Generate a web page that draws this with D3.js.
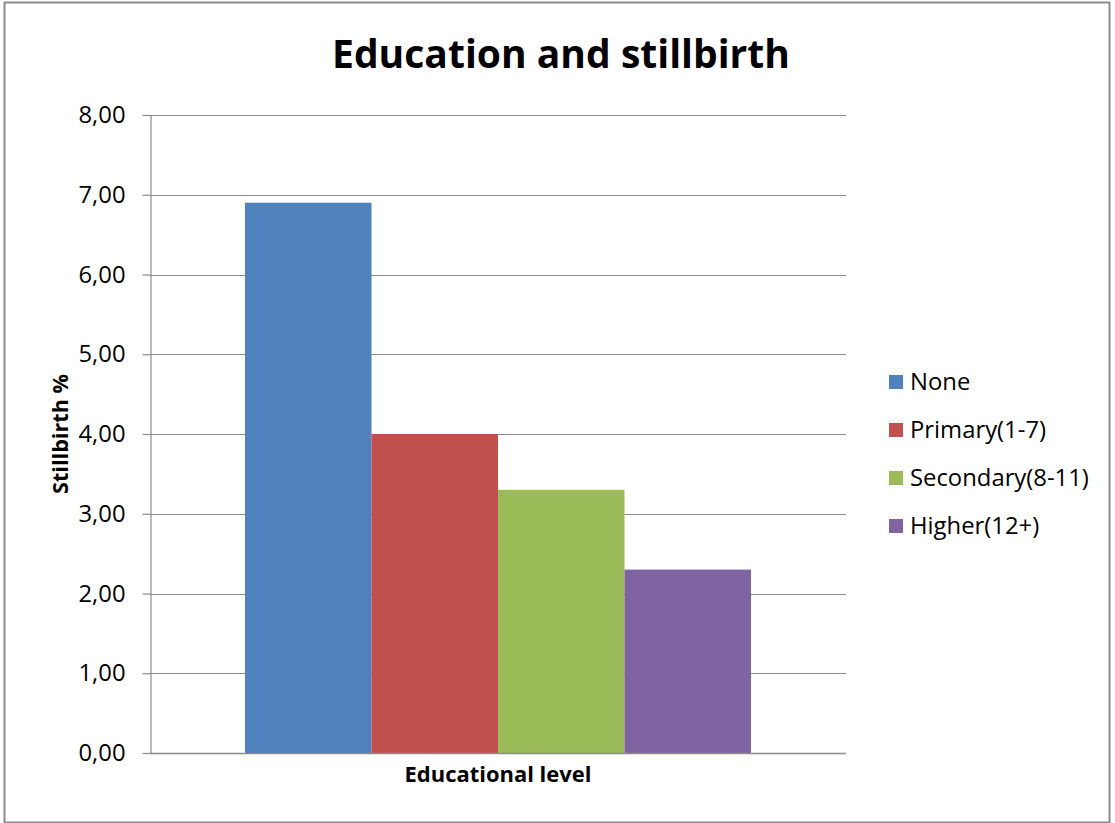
<!DOCTYPE html>
<html>
<head>
<meta charset="utf-8">
<script src="https://cdn.jsdelivr.net/npm/d3@7"></script>
<style>
  body { margin: 0; background: #fff; }
  svg { display: block; font-family: "Open Sans", Lato, sans-serif; }
</style>
</head>
<body>
<div id="chart"></div>
<script>
const categories = ["Educational level"];
const series = ["None", "Primary(1-7)", "Secondary(8-11)", "Higher(12+)"];
const values = [6.90, 4.00, 3.30, 2.30];
const yTicks = [0, 1, 2, 3, 4, 5, 6, 7, 8];
const colors = ["#4F81BD", "#C0504D", "#9BBB59", "#8064A2"];

const dimensions = {
    width: 1115,
    height: 823,
    plot: { left: 150, right: 846, top: 115, bottom: 753 }
};

const svg = d3.select("#chart")
    .append("svg")
    .attr("width", dimensions.width)
    .attr("height", dimensions.height);

// scale font so that the text takes the width it has in the original
function fitWidth(sel, target) {
    sel.each(function () {
        const size = parseFloat(d3.select(this).attr("font-size"));
        const len = this.getComputedTextLength();
        d3.select(this).attr("font-size", (size * target / len).toFixed(2));
    });
}

// chart frame
svg.append("rect")
    .attr("x", 4.5)
    .attr("y", 2.5)
    .attr("width", 1105)
    .attr("height", 820)
    .attr("fill", "#fff")
    .attr("stroke", "#8c8c8c")
    .attr("stroke-width", 2);

const yScale = d3.scaleLinear()
    .domain([0, 8])
    .range([dimensions.plot.bottom, dimensions.plot.top]);

const xScale = d3.scaleBand()
    .domain(categories)
    .range([dimensions.plot.left, dimensions.plot.right])
    .paddingInner(0)
    .paddingOuter(0.1877);

const xInner = d3.scaleBand()
    .domain(series)
    .range([0, xScale.bandwidth()]);

const color = d3.scaleOrdinal().domain(series).range(colors);

const fmt = v => d3.format(".2f")(v).replace(".", ",");

// gridlines
svg.append("g")
    .selectAll("line")
    .data(yTicks.filter(d => d > 0))
    .enter()
    .append("line")
    .attr("x1", dimensions.plot.left)
    .attr("x2", dimensions.plot.right)
    .attr("y1", d => Math.round(yScale(d)) + 0.5)
    .attr("y2", d => Math.round(yScale(d)) + 0.5)
    .attr("stroke", "#8c8c8c")
    .attr("stroke-width", 1.2);

// bars
const data = series.map((s, i) => ({ series: s, category: categories[0], value: values[i] }));

svg.append("g")
    .selectAll("rect")
    .data(data)
    .enter()
    .append("rect")
    .attr("x", d => xScale(d.category) + xInner(d.series))
    .attr("y", d => yScale(d.value))
    .attr("width", xInner.bandwidth())
    .attr("height", d => yScale(0) - yScale(d.value))
    .attr("fill", d => color(d.series));

// y axis
const yAxis = svg.append("g")
    .attr("transform", `translate(${dimensions.plot.left + 0.5},0)`)
    .call(d3.axisLeft(yScale).tickValues(yTicks).tickSize(8).tickSizeOuter(0).tickPadding(17).tickFormat(fmt));

yAxis.select(".domain").attr("stroke", "#8c8c8c").attr("stroke-width", 1.2);
yAxis.selectAll(".tick line").attr("stroke", "#8c8c8c").attr("stroke-width", 1.2);
yAxis.selectAll(".tick text")
    .attr("font-family", "'Open Sans', sans-serif")
    .attr("font-size", 20)
    .attr("fill", "#000")
    .call(fitWidth, 47);

// x axis baseline
svg.append("line")
    .attr("x1", dimensions.plot.left)
    .attr("x2", dimensions.plot.right)
    .attr("y1", yScale(0) + 0.5)
    .attr("y2", yScale(0) + 0.5)
    .attr("stroke", "#8c8c8c")
    .attr("stroke-width", 1.5);

// title
svg.append("text")
    .attr("x", 561)
    .attr("y", 68)
    .attr("text-anchor", "middle")
    .attr("font-size", 40)
    .attr("font-weight", "bold")
    .attr("fill", "#000")
    .text("Education and stillbirth")
    .call(fitWidth, 458);

// axis titles
svg.append("text")
    .attr("x", xScale(categories[0]) + xScale.bandwidth() / 2)
    .attr("y", 782)
    .attr("text-anchor", "middle")
    .attr("font-size", 18)
    .attr("font-weight", "bold")
    .text("Educational level")
    .call(fitWidth, 187);

svg.append("text")
    .attr("transform", `translate(68,${(dimensions.plot.top + dimensions.plot.bottom) / 2}) rotate(-90)`)
    .attr("text-anchor", "middle")
    .attr("font-size", 18)
    .attr("font-weight", "bold")
    .text("Stillbirth %")
    .call(fitWidth, 120);

// legend
const legend = svg.selectAll(".legend")
    .data(series)
    .enter()
    .append("g")
    .attr("class", "legend")
    .attr("transform", (d, i) => `translate(889,${382 + i * 48})`);

legend.append("rect")
    .attr("x", 0)
    .attr("y", -7)
    .attr("width", 14)
    .attr("height", 14)
    .attr("fill", color);

const legendText = legend.append("text")
    .attr("x", 21)
    .attr("y", 0)
    .attr("dy", "0.35em")
    .attr("font-size", 20)
    .attr("fill", "#000")
    .text(d => d);

// same size for every entry, taken from the widest one
const widest = legendText.filter(d => d === "Secondary(8-11)");
fitWidth(widest, 179);
legendText.attr("font-size", widest.attr("font-size"));
</script>
</body>
</html>
